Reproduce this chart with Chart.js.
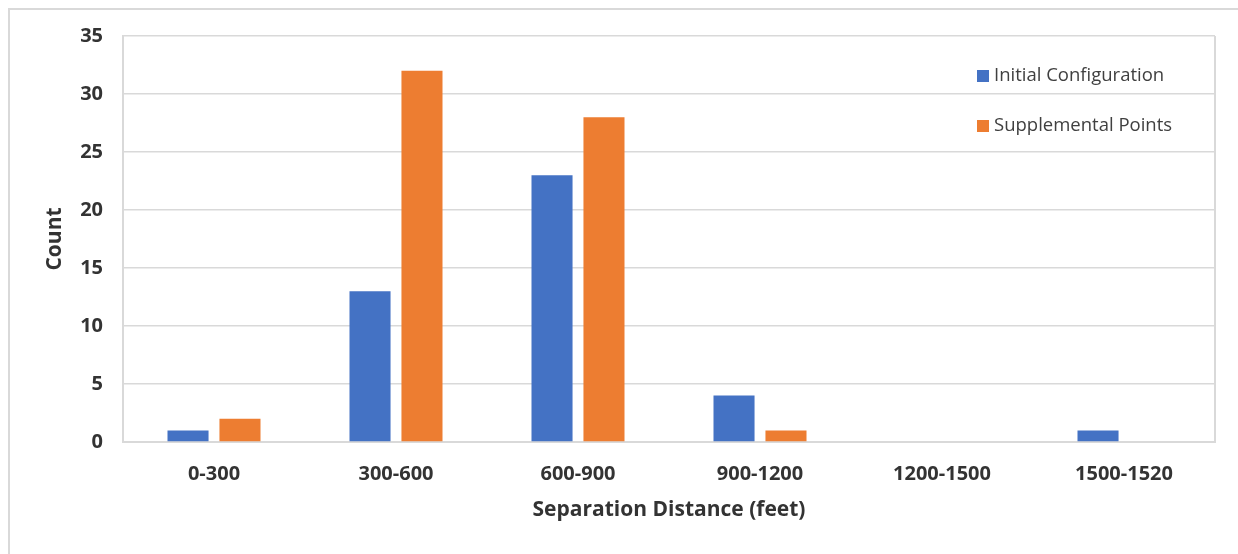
<!DOCTYPE html>
<html>
<head>
<meta charset="utf-8">
<script src="https://cdn.jsdelivr.net/npm/chart.js@4"></script>
<style>
  html, body { margin: 0; padding: 0; background: #fff; }
  #wrap { position: relative; width: 1238px; height: 554px; }
  #frame { position: absolute; left: 8px; top: 8px; width: 1240px; height: 560px;
           border-left: 2px solid #d9d9d9; border-top: 2px solid #d9d9d9; box-sizing: border-box; }
  canvas { position: absolute; left: 0; top: 0; }
</style>
</head>
<body>
<div id="wrap">
  <div id="frame"></div>
  <canvas id="chart" width="1238" height="554"></canvas>
</div>
<script>
const categories = ["0-300", "300-600", "600-900", "900-1200", "1200-1500", "1500-1520"];
const initialConfig = [1, 13, 23, 4, 0, 1];
const supplementalPoints = [2, 32, 28, 1, 0, 0];
const yTicks = [0, 5, 10, 15, 20, 25, 30, 35];

const gridColor = "#d9d9d9";
const textColor = "#333333";

// legend drawn inside the plot area, top right
const insideLegend = {
  id: "insideLegend",
  afterDraw(chart) {
    const ctx = chart.ctx;
    const area = chart.chartArea;
    ctx.save();
    ctx.font = "18.5px 'Open Sans'";
    ctx.textBaseline = "middle";
    chart.data.datasets.forEach(function(ds, i) {
      let x = area.right - 238;
      let y = 76 + i * 50;
      ctx.fillStyle = ds.backgroundColor;
      ctx.fillRect(x, y - 6, 12, 12);
      ctx.fillStyle = "#404040";
      ctx.fillText(ds.label, x + 17, y);
    });
    ctx.restore();
  }
};

const plotBorder = {
  id: "plotBorder",
  beforeDatasetsDraw(chart) {
    const ctx = chart.ctx;
    const a = chart.chartArea;
    ctx.save();
    ctx.strokeStyle = gridColor;
    ctx.lineWidth = 2;
    ctx.beginPath();
    ctx.moveTo(a.right, a.top);
    ctx.lineTo(a.right, a.bottom);
    ctx.stroke();
    ctx.restore();
  }
};

let ctx = document.getElementById("chart").getContext("2d");

new Chart(ctx, {
  type: "bar",
  data: {
    labels: categories,
    datasets: [
      { label: "Initial Configuration", data: initialConfig, backgroundColor: "#4472C4" },
      { label: "Supplemental Points", data: supplementalPoints, backgroundColor: "#ED7D31" }
    ]
  },
  options: {
    responsive: false,
    animation: false,
    layout: { padding: { left: 0, right: 23, top: 36, bottom: 0 } },
    datasets: { bar: { categoryPercentage: 0.571, barPercentage: 0.79 } },
    plugins: { legend: { display: false }, tooltip: { enabled: false } },
    scales: {
      x: {
        grid: { display: false },
        border: { color: gridColor, width: 2 },
        ticks: { color: textColor, font: { family: "Open Sans", size: 20, weight: "bold" }, padding: 12 },
        title: { display: true, text: "Separation Distance (feet)", color: textColor,
                 font: { family: "Open Sans", size: 21, weight: "bold" }, padding: { top: 0, bottom: 31 } },
        afterFit(scale) { scale.height = 112; }
      },
      y: {
        min: 0, max: 35,
        afterBuildTicks(scale) { scale.ticks = yTicks.map(v => ({ value: v })); },
        grid: { color: gridColor, lineWidth: 1.5, drawTicks: false },
        border: { color: gridColor, width: 2 },
        ticks: { color: textColor, font: { family: "Open Sans", size: 20, weight: "bold" }, padding: 20 },
        title: { display: true, text: "Count", color: textColor,
                 font: { family: "Open Sans", size: 21, weight: "bold" }, padding: { top: 42, bottom: 0 } },
        afterFit(scale) { scale.width = 123; }
      }
    }
  },
  plugins: [insideLegend, plotBorder]
});
</script>
</body>
</html>
